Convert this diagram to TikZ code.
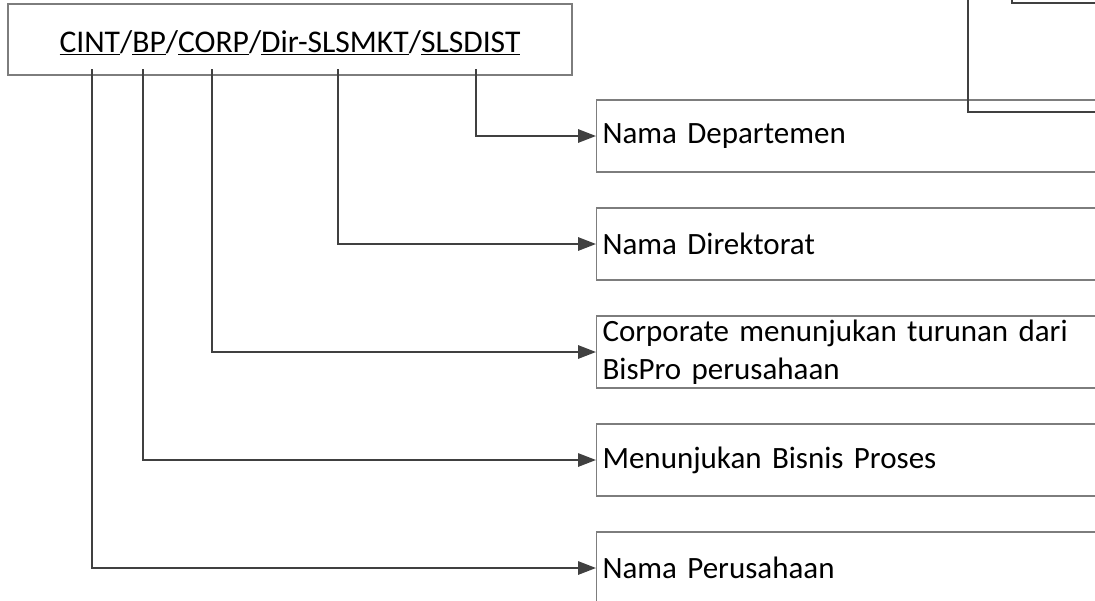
\documentclass[tikz,border=0pt]{standalone}
\usepackage{fontspec}
\setmainfont{Carlito}
\usetikzlibrary{arrows.meta}
\definecolor{linegray}{RGB}{64,64,64}
\definecolor{boxgray}{RGB}{125,125,125}
\tikzset{
  codebox/.style={draw=boxgray, line width=0.8pt, minimum width=423pt, minimum height=53.25pt, inner sep=0pt,
    font=\fontsize{23.7}{28.5}\selectfont},
  descbox/.style={draw=boxgray, line width=0.8pt, anchor=west, text width=445pt, align=left,
    minimum height=54pt, inner xsep=4.5pt, inner ysep=0pt},
  conn/.style={draw=linegray, line width=1.5pt, -{Triangle[length=13.5pt,width=10pt]}},
  partline/.style={draw=linegray, line width=1.5pt},
}
\begin{document}
\begin{tikzpicture}[x=0.75pt,y=-0.75pt, font=\fontsize{23.25}{28.5}\selectfont]
\clip (0,0) rectangle (1095,600);
% kode dokumen
\node[codebox] (kode) at (290,39.5) {\raisebox{-2.5pt}[\height][\depth]{\underline{CINT}/\underline{BP}/\underline{CORP}/\underline{Dir-SLSMKT}/\underline{SLSDIST}}};
\coordinate (pcint) at (92,69);
\coordinate (pbp) at (143,69);
\coordinate (pcorp) at (212,69);
\coordinate (pdir) at (338,69);
\coordinate (psls) at (476,69);
% keterangan
\node[descbox] (dept) at (596,136) {Nama Departemen};
\node[descbox] (dirk) at (596,244) {Nama Direktorat};
\node[descbox] (corp) at (596,352) {Corporate menunjukan turunan dari\\BisPro perusahaan};
\node[descbox] (bisp) at (596,460) {Menunjukan Bisnis Proses};
\node[descbox] (peru) at (596,568) {Nama Perusahaan};
% panah
\draw[conn] (psls) |- (dept.west);
\draw[conn] (pdir) |- (dirk.west);
\draw[conn] (pcorp) |- (corp.west);
\draw[conn] (pbp) |- (bisp.west);
\draw[conn] (pcint) |- (peru.west);
% potongan kanan atas
\coordinate (ka) at (968,-5);
\coordinate (kb) at (1012,-5);
\draw[partline] (ka) |- (1110,112);
\draw[partline] (kb) |- (1110,3);
\end{tikzpicture}
\end{document}
